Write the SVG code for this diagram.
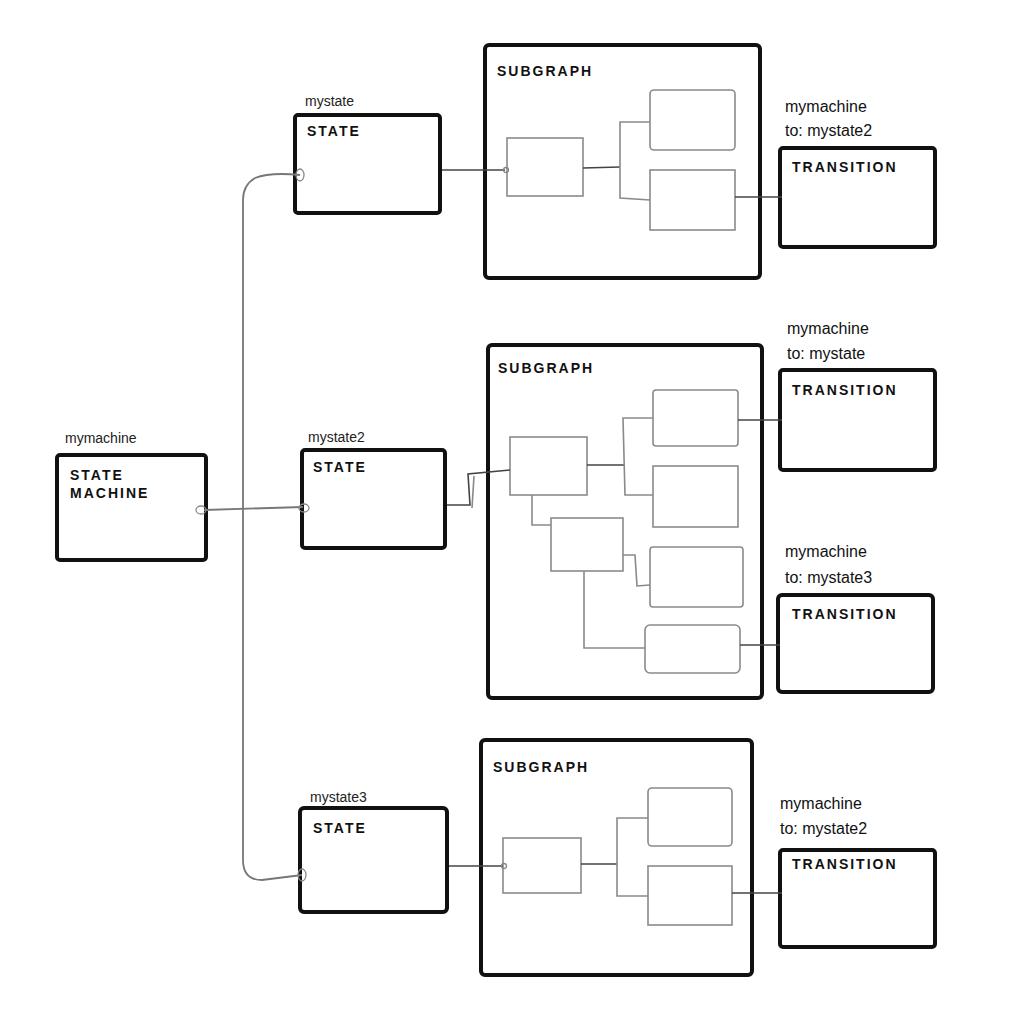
<svg xmlns="http://www.w3.org/2000/svg" width="1024" height="1024" viewBox="0 0 1024 1024">
<style>
.main{fill:#fff;stroke:#111;stroke-width:4;stroke-linejoin:round}
.sub{fill:none;stroke:#111;stroke-width:4;stroke-linejoin:round}
.inner{fill:none;stroke:#8a8a8a;stroke-width:1.6}
.conn{fill:none;stroke:#777;stroke-width:1.8;stroke-linejoin:round}
.dark{fill:none;stroke:#444;stroke-width:1.6}
.port{fill:none;stroke:#888;stroke-width:1.3}
.title{font-family:"Liberation Sans",Arial,sans-serif;font-weight:bold;font-size:14px;letter-spacing:2px;fill:#111}
.lbl{font-family:"Liberation Sans",Arial,sans-serif;font-size:14px;fill:#222}
.lbl2{font-family:"Liberation Sans",Arial,sans-serif;font-size:16px;fill:#111}
</style>
<rect width="1024" height="1024" fill="#fff"/>

<g id="statemachine">
  <text class="lbl" x="65" y="443">mymachine</text>
  <rect class="main" x="57" y="455" width="149" height="105" rx="3"/>
  <text class="title" x="70" y="480">STATE</text>
  <text class="title" x="70" y="498">MACHINE</text>
</g>

<g id="state1">
  <text class="lbl" x="305" y="106" font-size="12">mystate</text>
  <rect class="main" x="295" y="115" width="145" height="98" rx="3"/>
  <text class="title" x="307" y="136">STATE</text>
</g>
<g id="state2">
  <text class="lbl" x="308" y="442" font-size="12">mystate2</text>
  <rect class="main" x="302" y="450" width="143" height="98" rx="3"/>
  <text class="title" x="313" y="472">STATE</text>
</g>
<g id="state3">
  <text class="lbl" x="310" y="802" font-size="12">mystate3</text>
  <rect class="main" x="300" y="808" width="147" height="104" rx="4"/>
  <text class="title" x="313" y="833">STATE</text>
</g>

<g id="subgraph1">
  <rect class="sub" x="485" y="45" width="275" height="233" rx="4"/>
  <text class="title" x="497" y="76">SUBGRAPH</text>
  <rect class="inner" x="507" y="138" width="76" height="58"/>
  <rect class="inner" x="650" y="90" width="85" height="60" rx="4"/>
  <rect class="inner" x="650" y="170" width="85" height="60"/>
</g>
<g id="subgraph2">
  <rect class="sub" x="488" y="345" width="274" height="353" rx="4"/>
  <text class="title" x="498" y="373">SUBGRAPH</text>
  <rect class="inner" x="510" y="437" width="77" height="58"/>
  <rect class="inner" x="653" y="390" width="85" height="56" rx="3"/>
  <rect class="inner" x="653" y="466" width="85" height="61"/>
  <rect class="inner" x="551" y="518" width="72" height="53"/>
  <rect class="inner" x="650" y="547" width="93" height="60" rx="3"/>
  <rect class="inner" x="645" y="625" width="95" height="48" rx="5"/>
</g>
<g id="subgraph3">
  <rect class="sub" x="481" y="740" width="271" height="235" rx="4"/>
  <text class="title" x="493" y="772">SUBGRAPH</text>
  <rect class="inner" x="503" y="838" width="78" height="55"/>
  <rect class="inner" x="648" y="788" width="84" height="58" rx="4"/>
  <rect class="inner" x="648" y="866" width="84" height="59"/>
</g>

<g id="transition1">
  <text class="lbl2" x="785" y="112">mymachine</text>
  <text class="lbl2" x="785" y="136">to: mystate2</text>
  <rect class="main" x="780" y="148" width="155" height="99" rx="3"/>
  <text class="title" x="792" y="172">TRANSITION</text>
</g>
<g id="transition2">
  <text class="lbl2" x="787" y="334">mymachine</text>
  <text class="lbl2" x="787" y="359">to: mystate</text>
  <rect class="main" x="780" y="370" width="155" height="100" rx="3"/>
  <text class="title" x="792" y="395">TRANSITION</text>
</g>
<g id="transition3">
  <text class="lbl2" x="785" y="557">mymachine</text>
  <text class="lbl2" x="785" y="583">to: mystate3</text>
  <rect class="main" x="778" y="595" width="155" height="97" rx="4"/>
  <text class="title" x="792" y="619">TRANSITION</text>
</g>
<g id="transition4">
  <text class="lbl2" x="780" y="809">mymachine</text>
  <text class="lbl2" x="780" y="834">to: mystate2</text>
  <rect class="main" x="780" y="850" width="155" height="97" rx="3"/>
  <text class="title" x="792" y="869">TRANSITION</text>
</g>

<g id="connectors">
  <path class="conn" d="M204,510 L303,507"/>
  <path class="conn" d="M300,175 Q270,172 255,178 Q243,185 243,200 L243,860 Q243,880 262,880 L302,875"/>
  <path class="dark" d="M442,170 L505,170"/>
  <path class="dark" d="M583,168 L620,167"/>
  <path class="inner" d="M650,122 L620,122 L620,198 L650,200"/>
  <path class="dark" d="M735,197 L782,197"/>
  <path class="dark" d="M447,505 L470,505 L468,474 L510,470"/>
  <path class="inner" d="M472,508 L474,476"/>
  <path class="dark" d="M587,465 L624,465"/>
  <path class="inner" d="M653,418 L623,418 L625,495 L653,495"/>
  <path class="inner" d="M532,495 L532,525 L551,525"/>
  <path class="inner" d="M623,555 L635,555 L637,586 L650,585"/>
  <path class="inner" d="M584,571 L584,648 L645,648"/>
  <path class="dark" d="M738,420 L782,420"/>
  <path class="dark" d="M740,645 L780,645"/>
  <path class="dark" d="M449,866 L503,866"/>
  <path class="dark" d="M581,864 L617,864"/>
  <path class="inner" d="M648,818 L617,818 L617,896 L648,896"/>
  <path class="dark" d="M732,893 L782,893"/>
  <ellipse class="port" cx="300" cy="175" rx="4" ry="6"/>
  <ellipse class="port" cx="201" cy="510" rx="5" ry="4"/>
  <ellipse class="port" cx="304" cy="508" rx="5" ry="4"/>
  <ellipse class="port" cx="302" cy="875" rx="4" ry="6"/>
  <circle class="port" cx="506" cy="170" r="2.5"/>
  <circle class="port" cx="504" cy="866" r="2.5"/>
</g>
</svg>
